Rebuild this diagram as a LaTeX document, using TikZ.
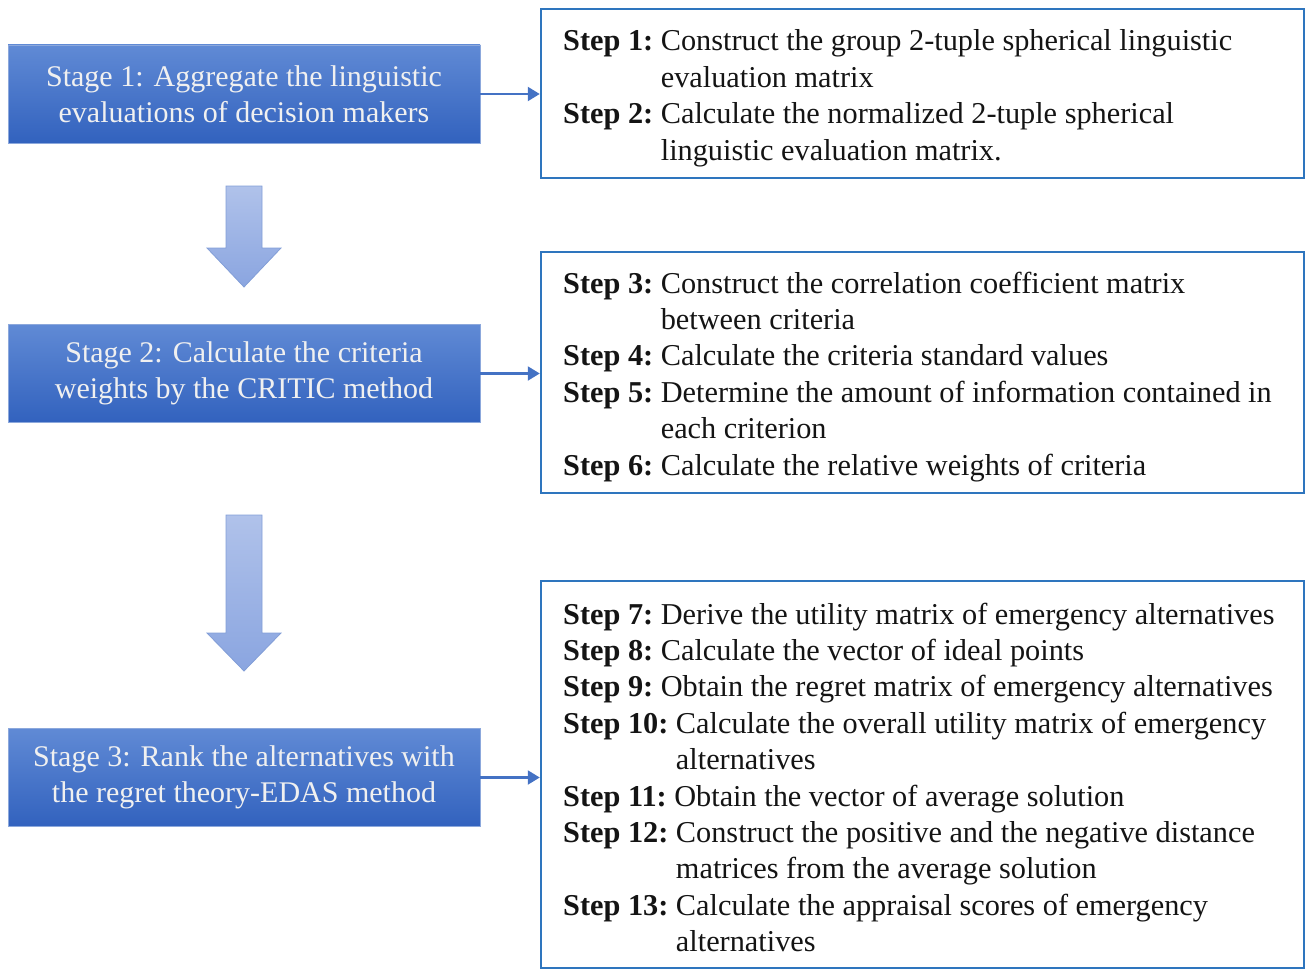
\documentclass[tikz,border=0pt]{standalone}
\usepackage{fontspec}
\setmainfont{Liberation Serif}
\usetikzlibrary{arrows.meta}
\definecolor{stagetop}{RGB}{96,138,213}
\definecolor{stagebot}{RGB}{50,98,190}
\definecolor{stageedge}{RGB}{140,168,220}
\definecolor{framec}{RGB}{46,117,190}
\definecolor{linkc}{RGB}{68,114,196}
\definecolor{bartop}{RGB}{176,194,234}
\definecolor{barbot}{RGB}{138,165,224}
\definecolor{baredge}{RGB}{130,158,215}
\definecolor{txt}{RGB}{20,20,20}
\newcommand{\mystep}[2]{\par\setbox0=\hbox{\textbf{Step #1:}\ }\hangindent=\wd0 \hangafter=1 \noindent\box0 #2\par}
\newcommand{\stepfont}{\fontsize{30.3}{36.4}\selectfont}
\begin{document}
\begin{tikzpicture}[x=1pt,y=-1pt,
  stage/.style={draw=stageedge, line width=0.8pt, top color=stagetop, bottom color=stagebot,
    minimum width=472pt, minimum height=98pt, inner sep=0pt, align=center, text=white!94!black,
    font=\fontsize{30}{36}\selectfont},
  frame/.style={draw=framec, line width=2.5pt, inner sep=0pt},
  steps/.style={inner sep=0pt, anchor=base west, text=txt},
  link/.style={draw=linkc, line width=2.2pt, -{Triangle[length=12pt,width=14pt]}},
  bar/.style={top color=bartop, bottom color=barbot, draw=baredge, line width=0.8pt}
]
\useasboundingbox (0,0) rectangle (1306,971);
% stage boxes
\node[stage] (s1) at (244,94) {Stage 1: Aggregate the linguistic\\evaluations of decision makers};
\node[stage] (s2) at (244,373.5) {Stage 2: Calculate the criteria\\weights by the CRITIC method};
\node[stage] (s3) at (244,777.5) {Stage 3: Rank the alternatives with\\the regret theory-EDAS method};
% block arrows
\shade[bar] (226,186) -- (262,186) -- (262,248) -- (281,248) -- (244,287) -- (207,248) -- (226,248) -- cycle;
\shade[bar] (226,515) -- (262,515) -- (262,633) -- (281,633) -- (244,671) -- (207,633) -- (226,633) -- cycle;
% frames
\node[frame, minimum width=763pt, minimum height=169pt] (f1) at (922.5,93.5) {};
\node[frame, minimum width=763pt, minimum height=241pt] (f2) at (922.5,372.5) {};
\node[frame, minimum width=763pt, minimum height=387pt] (f3) at (922.5,774.5) {};
% step texts
\node[steps] (t1) at (563,51) {\parbox[t]{735pt}{\stepfont
\mystep{1}{Construct the group 2-tuple spherical linguistic\newline evaluation matrix}
\mystep{2}{Calculate the normalized 2-tuple spherical\newline linguistic evaluation matrix.}}};
\node[steps] (t2) at (563,293) {\parbox[t]{735pt}{\stepfont
\mystep{3}{Construct the correlation coefficient matrix\newline between criteria}
\mystep{4}{Calculate the criteria standard values}
\mystep{5}{Determine the amount of information contained in\newline each criterion}
\mystep{6}{Calculate the relative weights of criteria}}};
\node[steps] (t3) at (563,624) {\parbox[t]{735pt}{\stepfont
\mystep{7}{Derive the utility matrix of emergency alternatives}
\mystep{8}{Calculate the vector of ideal points}
\mystep{9}{Obtain the regret matrix of emergency alternatives}
\mystep{10}{Calculate the overall utility matrix of emergency\newline alternatives}
\mystep{11}{Obtain the vector of average solution}
\mystep{12}{Construct the positive and the negative distance\newline matrices from the average solution}
\mystep{13}{Calculate the appraisal scores of emergency\newline alternatives}}};
% connectors
\draw[link] (s1.east) -- (s1.east -| f1.west);
\draw[link] (s2.east) -- (s2.east -| f2.west);
\draw[link] (s3.east) -- (s3.east -| f3.west);
\end{tikzpicture}
\end{document}
